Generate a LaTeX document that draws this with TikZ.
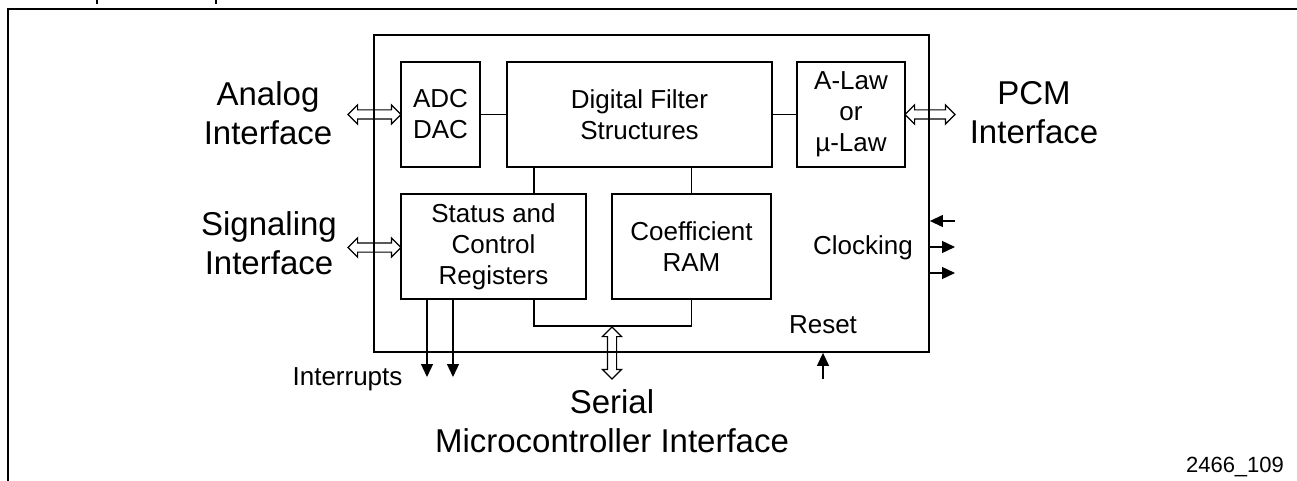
\documentclass[tikz,border=0pt]{standalone}
\usepackage{fontspec}
\setmainfont{Liberation Sans}
\usetikzlibrary{shapes.arrows,arrows.meta}
\begin{document}
\begin{tikzpicture}[x=0.5pt,y=-0.5pt,
  blk/.style={draw,line width=0.6pt,inner sep=0pt,minimum height=52.5pt},
  big/.style={font=\fontsize{16.5}{19.5}\selectfont,align=center,inner sep=0pt},
  txt/.style={font=\fontsize{13}{15.5}\selectfont,align=center,inner sep=0pt},
  hol/.style={draw,double arrow,line width=0.6pt,text width=0pt,text height=2pt,text depth=2pt,double arrow head extend=2.5pt,inner sep=0pt},
  sarr/.style={line width=0.6pt,-{Triangle[length=6.5pt,width=6pt]}},
  wire/.style={line width=0.6pt}]
\useasboundingbox (0,0) rectangle (1297,481);
% outer frame and cut-off marks
\draw[line width=1.2pt] (8,481) -- (8,9) -- (1297,9);
\draw[line width=1.3pt] (97,0) -- (97,4);
\draw[line width=1.3pt] (216,0) -- (216,4);
% chip
\node[draw,line width=0.9pt,minimum width=277.5pt,minimum height=158.5pt,inner sep=0pt] (chip) at (651.5,193.5) {};
% blocks
\node[blk,txt,minimum width=39.5pt] (adc) at (440.5,114.5) {ADC\\DAC};
\node[blk,txt,minimum width=132.5pt] (df) at (639.5,114.5) {Digital Filter\\Structures};
\node[blk,txt,minimum width=54pt] (al) at (851,114.5) {A-Law\\or\\µ-Law};
\node[blk,txt,minimum width=92.5pt] (st) at (493.5,246.5) {Status and\\Control\\Registers};
\node[blk,txt,minimum width=79.5pt] (cf) at (691.5,246.5) {Coefficient\\RAM};
% internal wires
\coordinate (v1) at (534,0);
\coordinate (bus) at (612,326);
\draw[wire] (adc.east) -- (df.west);
\draw[wire] (df.east) -- (al.west);
\draw[wire] (df.south -| v1) -- (st.north -| v1);
\draw[wire] (df.south -| cf.north) -- (cf.north);
\draw[wire] (st.south -| v1) |- (bus) -| (cf.south);
% hollow arrows
\node[hol,minimum height=26.5pt] (aarr) at (374.5,114.5) {};
\node[hol,minimum height=26.5pt] (sgarr) at (374.5,247.5) {};
\node[hol,minimum height=25pt] (parr) at (930,114.5) {};
\node[hol,minimum height=26pt,rotate=90] (serarr) at (612,353) {};
% small arrows
\coordinate (c1) at (955,221);
\coordinate (c2) at (955,247);
\coordinate (c3) at (955,273);
\draw[sarr] (c1) -- (chip.east |- c1);
\draw[sarr] (chip.east |- c2) -- (c2);
\draw[sarr] (chip.east |- c3) -- (c3);
\coordinate (r) at (823,379);
\draw[sarr] (r) -- (chip.south -| r);
\coordinate (i1) at (427,377);
\coordinate (i2) at (453,377);
\draw[sarr] (st.south -| i1) -- (i1);
\draw[sarr] (st.south -| i2) -- (i2);
% labels
\node[big] (analog) at (268,113) {Analog\\Interface};
\node[big] (sig) at (269,243) {Signaling\\Interface};
\node[big] (pcm) at (1034,113) {PCM\\Interface};
\node[big] (ser) at (612,421) {Serial\\Microcontroller Interface};
\node[txt,anchor=base] (clk) at (863,255) {Clocking};
\node[txt,anchor=base] (rst) at (823,333) {Reset};
\node[txt,anchor=base] (intr) at (347.5,385) {Interrupts};
\node[font=\fontsize{11}{13}\selectfont,anchor=base,inner sep=0pt] (fig) at (1235,472) {2466\_109};
\end{tikzpicture}
\end{document}
